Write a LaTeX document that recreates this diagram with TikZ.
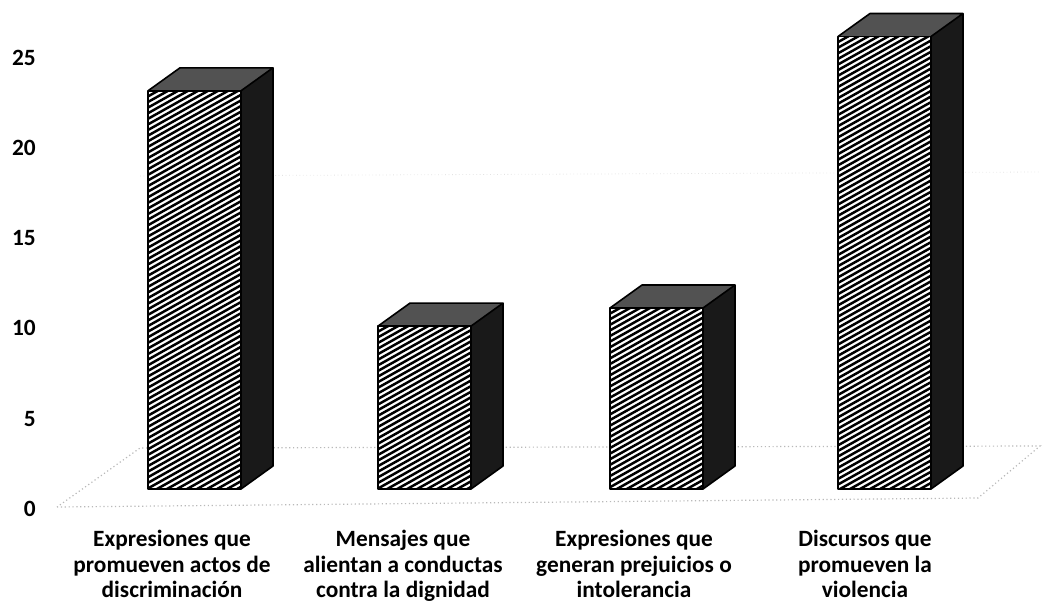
\documentclass[tikz,border=0pt]{standalone}
\usepackage{fontspec}
\setmainfont{Carlito}
\newcommand\drawbar[2]{%
  \pgfmathsetmacro\yt{489-18.1*#2}%
  \pgfmathsetmacro\xr{#1+93}%
  % side face
  \fill[sideface] (\xr,\yt) -- ++(32,-23) -- (\xr+32,466) -- (\xr,489) -- cycle;
  % top face
  \fill[topface] (#1,\yt) -- ++(32,-23) -- ++(93,0) -- (\xr,\yt) -- cycle;
  % front face with stripes
  \fill[white] (#1,\yt) rectangle (\xr,489);
  \begin{scope}
    \clip (#1,\yt) rectangle (\xr,489);
    \foreach \k in {0,...,95} {\draw[stripe] (#1,\yt+\k*5.6) -- ++(93,-52);}
  \end{scope}
  \draw[edge] (#1,\yt) rectangle (\xr,489);
  \draw[edge] (#1,\yt) -- ++(32,-23) -- ++(93,0) -- (\xr,\yt);
  \draw[edge] (\xr+32,\yt-23) -- (\xr+32,466) -- (\xr,489);
}
\begin{document}
\begin{tikzpicture}[x=0.75pt,y=-0.75pt,
  lbl/.style={font=\fontsize{17.5}{19.2}\selectfont\bfseries, inner sep=0pt},
  sideface/.style={fill=black!90},
  topface/.style={fill=black!68},
  stripe/.style={line width=1.85pt, black},
  edge/.style={line width=1.2pt, black, line join=round},
  floorline/.style={gray!55, dotted, line width=0.9pt},
  grid/.style={gray!22, dotted, line width=0.6pt}]
\useasboundingbox (0,0) rectangle (1042,608);
% back wall gridline (faint)
\draw[grid] (140,176) -- (1040,172);
% floor
\coordinate (fl) at (57,507);
\coordinate (fr) at (978,498);
\coordinate (br) at (1040,446);
\coordinate (bl) at (140,448);
\draw[floorline] (fl) -- (fr) -- (br) -- (bl) -- cycle;
% bars
\drawbar{148}{22}
\drawbar{378}{9}
\drawbar{610}{10}
\drawbar{838}{25}
% axis labels
\node[lbl, anchor=east] (y25) at (36,58) {25};
\node[lbl, anchor=east] (y20) at (36,148) {20};
\node[lbl, anchor=east] (y15) at (36,238) {15};
\node[lbl, anchor=east] (y10) at (36,328) {10};
\node[lbl, anchor=east] (y5) at (36,419) {5};
\node[lbl, anchor=east] (y0) at (36,509) {0};
% category labels
\node[lbl, anchor=north, align=center] (c1) at (172,530) {Expresiones que\\promueven actos de\\discriminación};
\node[lbl, anchor=north, align=center] (c2) at (403,530) {Mensajes que\\alientan a conductas\\contra la dignidad};
\node[lbl, anchor=north, align=center] (c3) at (634,530) {Expresiones que\\generan prejuicios o\\intolerancia};
\node[lbl, anchor=north, align=center] (c4) at (865,530) {Discursos que\\promueven la\\violencia};
\end{tikzpicture}
\end{document}
